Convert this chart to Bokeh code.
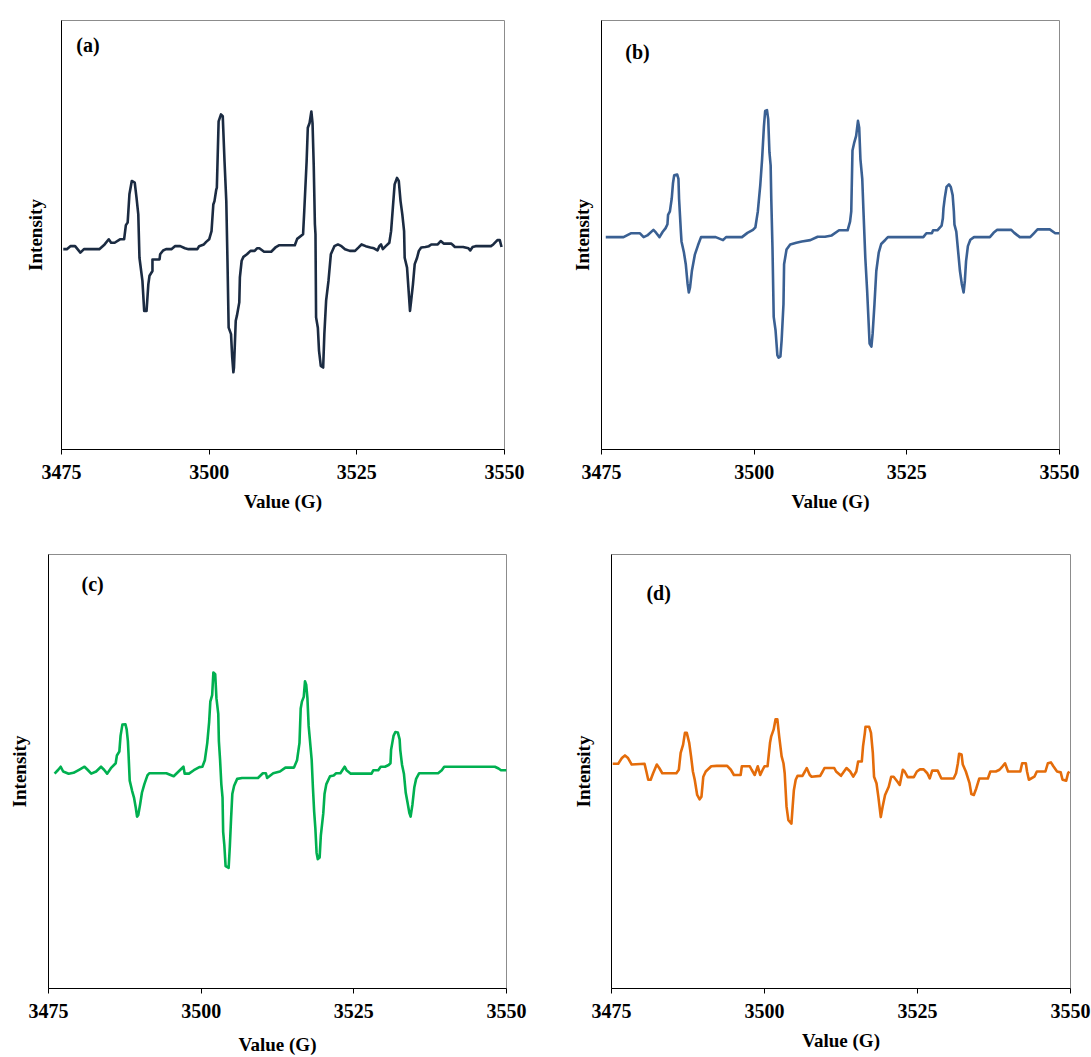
import numpy as np
from bokeh.plotting import figure
from bokeh.layouts import column, row
from bokeh.models import Range1d, FixedTicker, Label
from bokeh.embed import file_html
from bokeh.resources import INLINE

# EPR spectra, (field in G, intensity in arbitrary units)
spectrum_a = [
    (3475.3, -3.3), (3475.9, -3.3), (3476.5, -2.6), (3477.3, -2.6), (3478.2, -4.1),
    (3478.8, -3.3), (3481.4, -3.3), (3482.3, -2.2), (3483.0, -1.0), (3483.4, -1.8),
    (3484.0, -1.8), (3484.9, -1.0), (3485.6, -1.0), (3485.9, 2.3), (3486.2, 2.9),
    (3486.5, 9.5), (3486.9, 12.6), (3487.4, 12.2), (3487.7, 8.7), (3488.0, 4.8),
    (3488.2, -5.3), (3488.7, -10.7), (3489.0, -17.7), (3489.4, -17.7), (3489.7, -11.5),
    (3489.9, -9.5), (3490.4, -8.4), (3490.4, -5.7), (3491.6, -5.7), (3491.7, -4.5),
    (3492.2, -3.6), (3492.7, -3.3), (3493.6, -3.3), (3494.2, -2.6), (3495.1, -2.6),
    (3495.9, -3.1), (3496.5, -3.3), (3498.0, -3.3), (3498.3, -2.6), (3499.1, -2.2),
    (3499.5, -1.6), (3500.0, -1.0), (3500.4, 0.9), (3500.7, 7.1), (3500.9, 7.9),
    (3501.2, 10.6), (3501.3, 11.0), (3501.6, 26.5), (3502.0, 28.1), (3502.3, 27.7),
    (3502.6, 17.2), (3502.9, 7.9), (3503.1, -6.0), (3503.3, -21.6), (3503.7, -23.1),
    (3503.9, -28.5), (3504.1, -32.0), (3504.2, -30.9), (3504.5, -20.0), (3504.7, -18.8),
    (3505.1, -15.7), (3505.2, -9.9), (3505.5, -6.0), (3505.8, -5.1), (3506.4, -4.5),
    (3507.0, -3.7), (3507.7, -3.7), (3508.1, -3.1), (3508.5, -3.1), (3509.3, -3.9),
    (3510.5, -3.9), (3511.3, -2.8), (3511.8, -2.4), (3514.5, -2.4), (3514.9, -0.9),
    (3515.9, 0.2), (3516.1, 5.6), (3516.5, 17.2), (3516.7, 25.0), (3517.0, 26.1),
    (3517.3, 28.8), (3517.5, 26.1), (3517.7, 16.4), (3517.9, 2.5), (3518.0, 0.2),
    (3518.1, -19.2), (3518.4, -21.6), (3518.6, -27.0), (3518.9, -30.5), (3519.3, -30.9),
    (3519.5, -23.1), (3519.8, -15.3), (3520.2, -10.7), (3520.6, -4.5), (3521.2, -2.6),
    (3521.8, -2.2), (3522.4, -2.6), (3523.0, -3.3), (3523.8, -3.7), (3524.7, -3.7),
    (3525.3, -2.9), (3525.8, -2.2), (3526.5, -2.6), (3527.3, -2.9), (3527.9, -3.1),
    (3528.5, -3.6), (3528.8, -2.6), (3529.1, -2.2), (3529.4, -3.3), (3529.9, -2.6),
    (3530.5, -1.8), (3530.8, 0.9), (3531.1, 6.4), (3531.4, 11.8), (3531.8, 13.3),
    (3532.1, 12.6), (3532.4, 7.9), (3532.7, 4.8), (3533.0, 0.9), (3533.1, -5.3),
    (3533.5, -7.6), (3534.0, -17.7), (3534.2, -15.3), (3534.5, -11.5), (3534.8, -6.8),
    (3535.2, -5.3), (3535.5, -3.7), (3535.9, -2.9), (3536.6, -2.8), (3537.2, -2.6),
    (3537.6, -2.2), (3538.7, -2.2), (3539.2, -1.4), (3539.7, -2.0), (3541.0, -2.0),
    (3541.3, -2.4), (3541.6, -2.8), (3543.0, -2.8), (3543.9, -3.1), (3544.2, -3.6),
    (3544.6, -2.8), (3545.1, -2.6), (3547.7, -2.6), (3548.1, -2.2), (3548.8, -1.2),
    (3549.2, -1.2), (3549.5, -2.8),
]

spectrum_b = [
    (3475.7, -0.5), (3478.6, -0.5), (3479.8, 0.4), (3481.3, 0.4), (3481.9, -0.5),
    (3482.5, -0.1), (3483.5, 1.2), (3483.9, 0.6), (3484.5, -0.5), (3485.0, 0.7),
    (3485.5, 1.6), (3485.8, 2.5), (3485.9, 4.7), (3486.2, 5.5), (3486.5, 8.5),
    (3486.7, 12.0), (3486.9, 13.9), (3487.4, 14.1), (3487.6, 13.1), (3487.7, 8.5),
    (3488.0, 0.8), (3488.1, -1.5), (3488.5, -4.1), (3488.8, -6.8), (3489.1, -11.4),
    (3489.3, -13.4), (3489.5, -12.2), (3489.8, -8.4), (3490.3, -4.5), (3490.8, -2.4),
    (3491.3, -0.5), (3493.7, -0.5), (3494.9, -1.2), (3495.4, -0.5), (3496.0, -0.5),
    (3498.0, -0.5), (3498.9, 0.5), (3499.8, 1.2), (3500.2, 1.8), (3500.6, 5.5),
    (3501.0, 11.6), (3501.3, 17.7), (3501.6, 25.4), (3501.8, 28.9), (3502.1, 29.1),
    (3502.3, 27.0), (3502.5, 19.3), (3502.7, 16.2), (3502.8, 8.5), (3503.0, -3.0),
    (3503.2, -19.1), (3503.5, -22.2), (3503.8, -28.0), (3504.0, -28.6), (3504.3, -28.3),
    (3504.5, -24.5), (3504.8, -16.1), (3504.9, -6.8), (3505.3, -3.4), (3505.9, -2.2),
    (3506.9, -1.8), (3507.8, -1.5), (3509.2, -1.2), (3510.4, -0.4), (3511.6, -0.4),
    (3512.7, -0.1), (3513.9, 1.1), (3515.3, 1.1), (3515.7, 3.1), (3515.9, 5.5),
    (3516.1, 19.7), (3516.4, 21.6), (3516.7, 23.1), (3517.0, 26.6), (3517.2, 25.0),
    (3517.4, 17.7), (3517.7, 13.1), (3517.9, 5.5), (3518.2, -5.3), (3518.5, -13.0),
    (3518.7, -19.1), (3518.9, -25.3), (3519.2, -26.0), (3519.4, -23.0), (3519.7, -16.1),
    (3520.0, -8.4), (3520.4, -4.1), (3520.8, -2.1), (3521.5, -1.1), (3521.9, -0.5),
    (3527.7, -0.5), (3528.2, 0.4), (3529.1, 0.4), (3529.3, 1.1), (3530.0, 1.1),
    (3530.7, 2.2), (3530.9, 3.9), (3531.0, 6.2), (3531.2, 8.5), (3531.5, 11.2),
    (3531.9, 11.8), (3532.2, 11.2), (3532.5, 9.3), (3532.7, 5.5), (3532.8, 2.4),
    (3533.1, 0.8), (3533.4, -3.8), (3533.7, -8.4), (3534.0, -11.4), (3534.3, -13.4),
    (3534.5, -10.7), (3534.7, -6.1), (3535.0, -2.6), (3535.4, -1.1), (3536.0, -0.5),
    (3538.6, -0.5), (3539.2, 0.5), (3539.8, 1.2), (3542.1, 1.2), (3542.6, 0.5),
    (3543.5, -0.5), (3545.2, -0.5), (3545.8, 0.4), (3546.4, 1.3), (3548.4, 1.3),
    (3549.3, 0.4), (3550.0, 0.4),
]

spectrum_c = [
    (3476.0, -0.5), (3476.6, 0.4), (3477.0, 1.1), (3477.4, 0.0), (3478.3, -0.5),
    (3479.1, -0.3), (3480.0, 0.4), (3480.9, 1.1), (3481.4, 0.4), (3482.0, -0.5),
    (3482.8, 0.0), (3483.6, 1.1), (3484.1, 0.4), (3484.6, -0.5), (3485.3, 0.9),
    (3486.0, 1.9), (3486.2, 3.7), (3486.6, 4.6), (3486.8, 8.2), (3487.1, 10.8),
    (3487.6, 10.9), (3487.8, 9.7), (3488.0, 7.0), (3488.1, 4.2), (3488.3, -2.1),
    (3488.7, -4.5), (3489.0, -6.0), (3489.3, -8.4), (3489.5, -10.4), (3489.7, -10.0),
    (3490.0, -7.6), (3490.3, -4.9), (3490.7, -2.9), (3491.2, -0.9), (3491.5, -0.4),
    (3494.3, -0.4), (3495.5, -1.1), (3496.3, 0.0), (3497.1, 1.1), (3497.3, -0.5),
    (3498.0, -0.5), (3498.8, 0.3), (3499.7, 1.0), (3500.2, 1.1), (3500.6, 2.6),
    (3501.0, 6.6), (3501.3, 11.3), (3501.5, 16.1), (3501.8, 17.6), (3502.0, 22.8),
    (3502.3, 22.4), (3502.5, 16.9), (3502.8, 13.3), (3502.9, 7.0), (3503.1, 2.6),
    (3503.3, -2.9), (3503.5, -6.0), (3503.6, -13.9), (3503.8, -17.1), (3504.0, -21.8),
    (3504.5, -22.2), (3504.7, -17.1), (3504.9, -10.8), (3505.1, -5.2), (3505.4, -3.3),
    (3505.9, -1.7), (3506.7, -1.5), (3509.3, -1.5), (3510.1, -0.4), (3510.6, -0.4),
    (3510.8, -1.5), (3511.8, -0.4), (3512.9, 0.0), (3513.8, 0.9), (3515.2, 0.9),
    (3515.7, 2.6), (3516.1, 6.6), (3516.3, 14.5), (3516.5, 16.1), (3516.8, 17.2),
    (3517.0, 20.8), (3517.2, 20.0), (3517.4, 16.9), (3517.6, 10.5), (3517.8, 7.4),
    (3518.1, 2.6), (3518.3, -3.7), (3518.5, -9.2), (3518.7, -13.1), (3518.9, -18.7),
    (3519.1, -20.2), (3519.4, -19.8), (3519.6, -14.7), (3520.0, -9.6), (3520.2, -5.2),
    (3520.5, -2.9), (3521.1, -1.1), (3521.7, -0.9), (3522.1, -0.4), (3522.8, -0.4),
    (3523.5, 1.1), (3523.8, 0.3), (3524.5, -0.5), (3527.9, -0.5), (3528.2, 0.3),
    (3529.0, 0.3), (3529.4, 1.1), (3530.1, 1.1), (3530.7, 1.5), (3531.0, 1.9),
    (3531.1, 5.0), (3531.3, 6.6), (3531.5, 8.2), (3531.8, 9.1), (3532.2, 9.0),
    (3532.5, 7.4), (3532.6, 5.0), (3532.8, 2.6), (3532.9, 1.5), (3533.2, -0.5),
    (3533.5, -4.9), (3533.8, -7.2), (3534.1, -9.6), (3534.3, -10.4), (3534.6, -7.6),
    (3534.9, -3.7), (3535.2, -1.7), (3535.7, -0.4), (3538.8, -0.4), (3539.4, 0.3),
    (3539.8, 1.1), (3548.1, 1.1), (3548.7, 0.7), (3549.1, 0.3), (3550.0, 0.3),
]

spectrum_d = [
    (3475.2, 1.8), (3476.1, 1.8), (3476.7, 3.1), (3477.2, 3.7), (3477.7, 3.1),
    (3478.3, 1.6), (3480.4, 1.8), (3480.7, 0.0), (3481.0, -1.9), (3481.4, -1.9),
    (3481.8, -0.4), (3482.4, 1.6), (3482.8, 0.8), (3483.3, -0.4), (3485.6, -0.4),
    (3486.0, 0.4), (3486.3, 4.3), (3486.7, 6.2), (3487.0, 8.9), (3487.3, 8.9),
    (3487.7, 6.6), (3488.0, 3.5), (3488.3, 0.0), (3488.6, -1.9), (3489.0, -5.4),
    (3489.4, -6.4), (3489.7, -5.8), (3490.0, -1.2), (3490.4, 0.0), (3491.3, 1.2),
    (3492.2, 1.3), (3493.9, 1.3), (3494.5, 0.4), (3495.0, -0.8), (3496.1, -0.8),
    (3496.3, 1.2), (3497.6, 1.2), (3497.9, 0.4), (3498.4, -0.8), (3498.6, 0.0),
    (3498.9, 1.2), (3499.3, -0.8), (3499.7, 0.4), (3500.0, 1.2), (3500.5, 1.2),
    (3500.9, 6.6), (3501.1, 8.1), (3501.5, 9.7), (3501.8, 12.0), (3502.1, 12.0),
    (3502.4, 8.1), (3502.8, 3.5), (3503.1, 1.9), (3503.3, -0.4), (3503.6, -8.1),
    (3503.9, -11.2), (3504.4, -12.0), (3504.6, -8.1), (3504.8, -4.3), (3505.1, -1.9),
    (3505.4, -1.0), (3506.2, -1.0), (3506.6, 0.0), (3506.9, 0.8), (3507.4, -0.8),
    (3507.7, -1.2), (3509.1, -1.0), (3509.5, 0.0), (3509.8, 0.8), (3511.4, 0.8),
    (3511.7, 0.0), (3512.5, -1.0), (3512.9, -0.2), (3513.4, 0.8), (3514.0, 0.0),
    (3514.5, -1.2), (3515.0, 0.0), (3515.3, 2.3), (3515.9, 2.3), (3516.1, 5.8),
    (3516.4, 8.9), (3516.5, 10.3), (3517.1, 10.3), (3517.4, 8.9), (3517.7, 4.3),
    (3517.9, -1.2), (3518.3, -2.7), (3518.6, -5.8), (3519.0, -10.5), (3519.3, -8.1),
    (3519.7, -5.4), (3520.3, -3.5), (3520.7, -1.2), (3521.1, -1.2), (3521.7, -2.3),
    (3522.1, -3.1), (3522.6, 0.4), (3522.9, 0.0), (3523.4, -1.3), (3524.4, -1.3),
    (3524.9, 0.0), (3525.4, 0.5), (3526.0, 0.5), (3526.6, -0.4), (3527.0, -1.6),
    (3527.4, 0.2), (3528.3, 0.2), (3528.9, -1.6), (3530.9, -1.6), (3531.3, -0.4),
    (3531.6, 1.9), (3531.8, 4.1), (3532.2, 3.9), (3532.4, 1.6), (3532.9, 0.0),
    (3533.5, -2.7), (3533.8, -5.2), (3534.2, -5.4), (3534.6, -3.9), (3535.1, -1.6),
    (3536.5, -1.6), (3536.9, 0.0), (3537.8, 0.0), (3538.4, 0.4), (3538.9, 1.2),
    (3539.3, 1.9), (3539.8, 0.0), (3541.8, 0.0), (3542.1, 1.9), (3542.7, 1.9),
    (3542.9, 0.0), (3543.2, -1.9), (3544.1, -1.2), (3544.5, 0.0), (3545.9, 0.0),
    (3546.3, 1.9), (3546.8, 2.1), (3547.2, 1.2), (3547.8, 0.0), (3548.4, -0.2),
    (3548.7, -1.9), (3549.3, -2.1), (3549.6, -0.4), (3549.8, 0.0),
]

field_ticks = [3475, 3500, 3525, 3550]
panel_tags = ["(a)", "(b)", "(c)", "(d)"]
line_colors = ["#1b2b42", "#3a6093", "#00b050", "#e46c0a"]

SERIF = "'Liberation Serif', 'Times New Roman', serif"


def panel(spectrum, color, tag, width, height, borders, tag_pos,
          ylabel_standoff, xlabel_standoff):
    left, right, top, bottom = borders
    p = figure(width=width, height=height,
               x_range=Range1d(3475, 3550), y_range=Range1d(-50, 50),
               min_border_left=left, min_border_right=right,
               min_border_top=top, min_border_bottom=bottom,
               output_backend="svg", toolbar_location=None, tools="")
    p.background_fill_color = "white"
    p.border_fill_color = "white"
    p.outline_line_color = "#8c8c8c"
    p.outline_line_width = 1
    p.xgrid.visible = False
    p.ygrid.visible = False

    xs = [pt[0] for pt in spectrum]
    ys = [pt[1] for pt in spectrum]
    p.line(xs, ys, line_color=color, line_width=2.6, line_join="round")

    xa = p.xaxis[0]
    xa.ticker = FixedTicker(ticks=field_ticks)
    xa.minor_tick_line_color = None
    xa.major_tick_in = 0
    xa.major_tick_out = 5
    xa.major_tick_line_color = "black"
    xa.axis_line_color = "black"
    xa.major_label_text_font = SERIF
    xa.major_label_text_font_style = "bold"
    xa.major_label_text_font_size = "20px"
    xa.major_label_text_color = "black"
    xa.major_label_standoff = 10
    xa.axis_label = "Value (G)"
    xa.axis_label_text_font = SERIF
    xa.axis_label_text_font_style = "bold"
    xa.axis_label_text_font_size = "19px"
    xa.axis_label_text_color = "black"
    xa.axis_label_standoff = xlabel_standoff

    ya = p.yaxis[0]
    ya.ticker = FixedTicker(ticks=[])
    ya.major_label_text_font_size = "0px"
    ya.minor_tick_line_color = None
    ya.major_tick_line_color = None
    ya.axis_line_color = "black"
    ya.axis_label = "Intensity"
    ya.axis_label_text_font = SERIF
    ya.axis_label_text_font_style = "bold"
    ya.axis_label_text_font_size = "19px"
    ya.axis_label_text_color = "black"
    ya.axis_label_standoff = ylabel_standoff

    p.add_layout(Label(x=tag_pos[0], y=tag_pos[1], text=tag,
                       text_font=SERIF, text_font_style="bold",
                       text_font_size="20px", text_color="black",
                       text_align="left", text_baseline="middle"))
    return p


pa = panel(spectrum_a, line_colors[0], panel_tags[0], 540, 520,
           (61, 36, 19, 71), (3477.5, 44.2), 16, 9)
pb = panel(spectrum_b, line_colors[1], panel_tags[1], 551, 520,
           (61, 32, 20, 66), (3478.9, 42.6), 9, 9)
pc = panel(spectrum_c, line_colors[2], panel_tags[2], 540, 537,
           (48, 34, 34, 69), (3480.4, 43.1), 19, 13)
pd = panel(spectrum_d, line_colors[3], panel_tags[3], 551, 537,
           (71, 21, 34, 61), (3480.7, 41.2), 18, 9)

layout = column(row(pa, pb), row(pc, pd))

open("out.html", "w").write(file_html(layout, INLINE))
